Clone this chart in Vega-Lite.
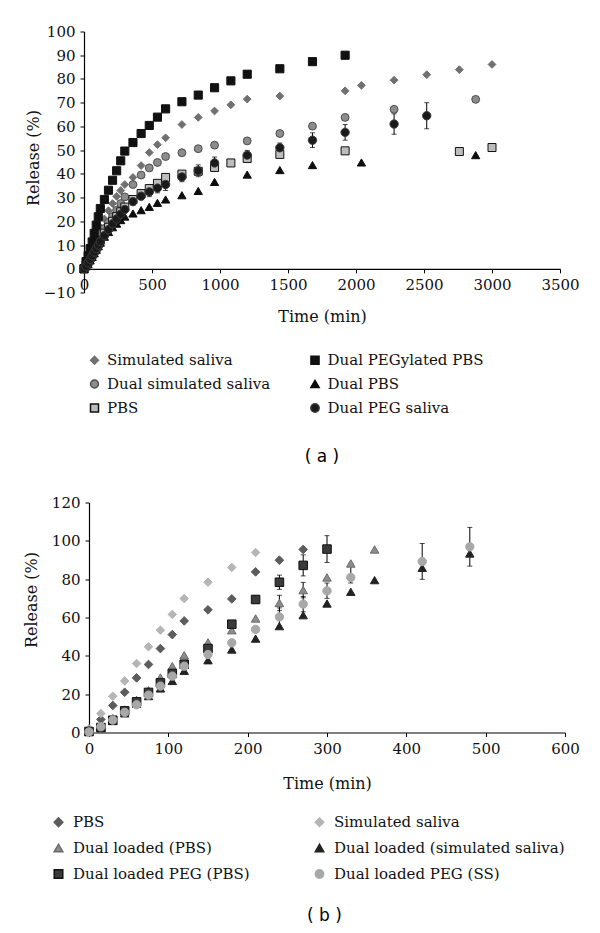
{
  "$schema": "https://vega.github.io/schema/vega-lite/v6.json",
  "background": "white",
  "padding": {"left": 23, "top": 24.5, "right": 5, "bottom": 5},
  "config": {
    "view": {"stroke": null},
    "font": "DejaVu Serif",
    "axis": {"grid": false, "domainColor": "#000", "tickColor": "#000", "labelColor": "#111", "titleColor": "#111", "labelFont": "DejaVu Serif", "titleFont": "DejaVu Serif", "labelFontSize": 15, "titleFontSize": 16, "titleFontWeight": "normal", "tickSize": 4, "labelPadding": 5, "domainWidth": 1.2, "tickWidth": 1, "labelOverlap": false, "labelFlush": false},
    "legend": {"labelFont": "DejaVu Serif", "labelFontSize": 15, "labelColor": "#111", "labelLimit": 400},
    "title": {"font": "DejaVu Sans", "fontSize": 17, "fontWeight": "normal", "color": "#000"}
  },
  "datasets": {
    "a": [
      {"s":"Simulated saliva","t":0,"r":0},{"s":"Simulated saliva","t":15,"r":2},{"s":"Simulated saliva","t":30,"r":4},{"s":"Simulated saliva","t":45,"r":6.5},{"s":"Simulated saliva","t":60,"r":9},{"s":"Simulated saliva","t":75,"r":11.5},{"s":"Simulated saliva","t":90,"r":13.5},{"s":"Simulated saliva","t":105,"r":15.5},{"s":"Simulated saliva","t":120,"r":17.5},{"s":"Simulated saliva","t":150,"r":21},{"s":"Simulated saliva","t":180,"r":24.5},{"s":"Simulated saliva","t":210,"r":27.5},{"s":"Simulated saliva","t":240,"r":30.5},{"s":"Simulated saliva","t":270,"r":33},{"s":"Simulated saliva","t":300,"r":35.5},{"s":"Simulated saliva","t":360,"r":38.5},{"s":"Simulated saliva","t":420,"r":43.5},{"s":"Simulated saliva","t":480,"r":49},{"s":"Simulated saliva","t":540,"r":52.3},{"s":"Simulated saliva","t":600,"r":55.2},{"s":"Simulated saliva","t":720,"r":60.8},{"s":"Simulated saliva","t":840,"r":63.8},{"s":"Simulated saliva","t":960,"r":66.5},{"s":"Simulated saliva","t":1080,"r":69.1},{"s":"Simulated saliva","t":1200,"r":71.5},{"s":"Simulated saliva","t":1440,"r":72.8},{"s":"Simulated saliva","t":1920,"r":75},{"s":"Simulated saliva","t":2040,"r":77.3},{"s":"Simulated saliva","t":2280,"r":79.5},{"s":"Simulated saliva","t":2520,"r":81.8},{"s":"Simulated saliva","t":2760,"r":83.9},{"s":"Simulated saliva","t":3000,"r":86.1},
      {"s":"Dual simulated saliva","t":0,"r":0},{"s":"Dual simulated saliva","t":15,"r":1.5},{"s":"Dual simulated saliva","t":30,"r":3.5},{"s":"Dual simulated saliva","t":45,"r":5.5},{"s":"Dual simulated saliva","t":60,"r":7.5},{"s":"Dual simulated saliva","t":75,"r":9.5},{"s":"Dual simulated saliva","t":90,"r":11.5},{"s":"Dual simulated saliva","t":105,"r":13},{"s":"Dual simulated saliva","t":120,"r":14.5},{"s":"Dual simulated saliva","t":150,"r":17},{"s":"Dual simulated saliva","t":180,"r":19.5},{"s":"Dual simulated saliva","t":210,"r":22},{"s":"Dual simulated saliva","t":240,"r":24.7},{"s":"Dual simulated saliva","t":270,"r":27.5},{"s":"Dual simulated saliva","t":300,"r":30.3},{"s":"Dual simulated saliva","t":360,"r":35.5},{"s":"Dual simulated saliva","t":420,"r":39.5},{"s":"Dual simulated saliva","t":480,"r":42.5},{"s":"Dual simulated saliva","t":540,"r":44.8},{"s":"Dual simulated saliva","t":600,"r":47.3},{"s":"Dual simulated saliva","t":720,"r":48.9},{"s":"Dual simulated saliva","t":840,"r":50.6},{"s":"Dual simulated saliva","t":960,"r":52.1},{"s":"Dual simulated saliva","t":1200,"r":53.9},{"s":"Dual simulated saliva","t":1440,"r":57},{"s":"Dual simulated saliva","t":1680,"r":60.1},{"s":"Dual simulated saliva","t":1920,"r":63.8},{"s":"Dual simulated saliva","t":2280,"r":67.2},{"s":"Dual simulated saliva","t":2880,"r":71.4},
      {"s":"PBS","t":0,"r":0},{"s":"PBS","t":15,"r":1.5},{"s":"PBS","t":30,"r":3},{"s":"PBS","t":45,"r":4.5},{"s":"PBS","t":60,"r":6},{"s":"PBS","t":75,"r":7.5},{"s":"PBS","t":90,"r":9},{"s":"PBS","t":105,"r":10.5},{"s":"PBS","t":120,"r":12},{"s":"PBS","t":150,"r":15},{"s":"PBS","t":180,"r":17.5},{"s":"PBS","t":210,"r":20},{"s":"PBS","t":240,"r":22},{"s":"PBS","t":270,"r":24},{"s":"PBS","t":300,"r":26},{"s":"PBS","t":360,"r":29.2},{"s":"PBS","t":420,"r":31.7},{"s":"PBS","t":480,"r":33.8},{"s":"PBS","t":540,"r":36},{"s":"PBS","t":600,"r":38.5},{"s":"PBS","t":720,"r":39.9},{"s":"PBS","t":840,"r":41.1},{"s":"PBS","t":960,"r":42.7},{"s":"PBS","t":1080,"r":44.6},{"s":"PBS","t":1200,"r":46.5},{"s":"PBS","t":1440,"r":48.2},{"s":"PBS","t":1920,"r":49.7},{"s":"PBS","t":2760,"r":49.4},{"s":"PBS","t":3000,"r":51.1},
      {"s":"Dual PEGylated PBS","t":0,"r":0},{"s":"Dual PEGylated PBS","t":15,"r":3},{"s":"Dual PEGylated PBS","t":30,"r":5.5},{"s":"Dual PEGylated PBS","t":45,"r":8.5},{"s":"Dual PEGylated PBS","t":60,"r":11.3},{"s":"Dual PEGylated PBS","t":75,"r":14.9},{"s":"Dual PEGylated PBS","t":90,"r":18.4},{"s":"Dual PEGylated PBS","t":105,"r":21.9},{"s":"Dual PEGylated PBS","t":120,"r":25.4},{"s":"Dual PEGylated PBS","t":150,"r":29.2},{"s":"Dual PEGylated PBS","t":180,"r":33.1},{"s":"Dual PEGylated PBS","t":210,"r":37.3},{"s":"Dual PEGylated PBS","t":240,"r":41.3},{"s":"Dual PEGylated PBS","t":270,"r":45.5},{"s":"Dual PEGylated PBS","t":300,"r":49.6},{"s":"Dual PEGylated PBS","t":360,"r":53.2},{"s":"Dual PEGylated PBS","t":420,"r":57},{"s":"Dual PEGylated PBS","t":480,"r":60.4},{"s":"Dual PEGylated PBS","t":540,"r":63.9},{"s":"Dual PEGylated PBS","t":600,"r":67.4},{"s":"Dual PEGylated PBS","t":720,"r":70.4},{"s":"Dual PEGylated PBS","t":840,"r":73.2},{"s":"Dual PEGylated PBS","t":960,"r":76.3},{"s":"Dual PEGylated PBS","t":1080,"r":79.2},{"s":"Dual PEGylated PBS","t":1200,"r":82},{"s":"Dual PEGylated PBS","t":1440,"r":84.3},{"s":"Dual PEGylated PBS","t":1680,"r":87.3},{"s":"Dual PEGylated PBS","t":1920,"r":90},
      {"s":"Dual PBS","t":0,"r":0},{"s":"Dual PBS","t":15,"r":1},{"s":"Dual PBS","t":30,"r":2},{"s":"Dual PBS","t":45,"r":3.5},{"s":"Dual PBS","t":60,"r":5},{"s":"Dual PBS","t":75,"r":6.5},{"s":"Dual PBS","t":90,"r":8},{"s":"Dual PBS","t":105,"r":9.5},{"s":"Dual PBS","t":120,"r":11},{"s":"Dual PBS","t":150,"r":13.5},{"s":"Dual PBS","t":180,"r":15.5},{"s":"Dual PBS","t":210,"r":17.5},{"s":"Dual PBS","t":240,"r":19},{"s":"Dual PBS","t":270,"r":20.5},{"s":"Dual PBS","t":300,"r":22},{"s":"Dual PBS","t":360,"r":23.3},{"s":"Dual PBS","t":420,"r":24.7},{"s":"Dual PBS","t":480,"r":26.1},{"s":"Dual PBS","t":540,"r":27.8},{"s":"Dual PBS","t":600,"r":29.2},{"s":"Dual PBS","t":720,"r":31},{"s":"Dual PBS","t":840,"r":32.8},{"s":"Dual PBS","t":960,"r":36.6},{"s":"Dual PBS","t":1200,"r":39.7},{"s":"Dual PBS","t":1440,"r":41.6},{"s":"Dual PBS","t":1680,"r":43.7},{"s":"Dual PBS","t":2040,"r":44.8},{"s":"Dual PBS","t":2880,"r":47.9},
      {"s":"Dual PEG saliva","t":0,"r":0},{"s":"Dual PEG saliva","t":15,"r":1},{"s":"Dual PEG saliva","t":30,"r":2.5},{"s":"Dual PEG saliva","t":45,"r":4},{"s":"Dual PEG saliva","t":60,"r":5.5},{"s":"Dual PEG saliva","t":75,"r":7},{"s":"Dual PEG saliva","t":90,"r":8.5},{"s":"Dual PEG saliva","t":105,"r":10},{"s":"Dual PEG saliva","t":120,"r":11.5},{"s":"Dual PEG saliva","t":150,"r":14},{"s":"Dual PEG saliva","t":180,"r":16.5},{"s":"Dual PEG saliva","t":210,"r":19},{"s":"Dual PEG saliva","t":240,"r":21},{"s":"Dual PEG saliva","t":270,"r":23},{"s":"Dual PEG saliva","t":300,"r":25},{"s":"Dual PEG saliva","t":360,"r":28.3},{"s":"Dual PEG saliva","t":420,"r":30.6},{"s":"Dual PEG saliva","t":480,"r":32.4},{"s":"Dual PEG saliva","t":540,"r":34},{"s":"Dual PEG saliva","t":600,"r":35.5},{"s":"Dual PEG saliva","t":720,"r":38.7},{"s":"Dual PEG saliva","t":840,"r":41.3},{"s":"Dual PEG saliva","t":960,"r":44.6},{"s":"Dual PEG saliva","t":1200,"r":47.9},{"s":"Dual PEG saliva","t":1440,"r":51},{"s":"Dual PEG saliva","t":1680,"r":54.2},{"s":"Dual PEG saliva","t":1920,"r":57.5},{"s":"Dual PEG saliva","t":2280,"r":61},{"s":"Dual PEG saliva","t":2520,"r":64.5}
    ],
    "a_err": [
      {"t":360,"lo":26.8,"hi":29.8},{"t":420,"lo":29.1,"hi":32.1},{"t":480,"lo":30.4,"hi":34.4},{"t":540,"lo":32,"hi":36},{"t":600,"lo":33,"hi":38},{"t":720,"lo":36.7,"hi":40.7},{"t":840,"lo":38.8,"hi":43.8},{"t":960,"lo":42.1,"hi":47.1},{"t":1200,"lo":45.9,"hi":49.9},{"t":1440,"lo":49,"hi":53},{"t":1680,"lo":51.1,"hi":57.3},{"t":1920,"lo":54.2,"hi":60.8},{"t":2280,"lo":56.7,"hi":65.3},{"t":2520,"lo":59,"hi":70}
    ],
    "b": [
      {"s":"PBS","t":0,"r":1},{"s":"PBS","t":15,"r":6.8},{"s":"PBS","t":30,"r":14.1},{"s":"PBS","t":45,"r":21},{"s":"PBS","t":60,"r":28.5},{"s":"PBS","t":75,"r":35.5},{"s":"PBS","t":90,"r":43.8},{"s":"PBS","t":105,"r":51.1},{"s":"PBS","t":120,"r":58.2},{"s":"PBS","t":150,"r":64},{"s":"PBS","t":180,"r":69.7},{"s":"PBS","t":210,"r":83.8},{"s":"PBS","t":240,"r":89.9},{"s":"PBS","t":270,"r":95.5},
      {"s":"Simulated saliva","t":0,"r":2},{"s":"Simulated saliva","t":15,"r":9.9},{"s":"Simulated saliva","t":30,"r":18.9},{"s":"Simulated saliva","t":45,"r":26.9},{"s":"Simulated saliva","t":60,"r":36},{"s":"Simulated saliva","t":75,"r":44.7},{"s":"Simulated saliva","t":90,"r":53.4},{"s":"Simulated saliva","t":105,"r":61.6},{"s":"Simulated saliva","t":120,"r":69.9},{"s":"Simulated saliva","t":150,"r":78.4},{"s":"Simulated saliva","t":180,"r":86.1},{"s":"Simulated saliva","t":210,"r":93.9},
      {"s":"Dual loaded (PBS)","t":0,"r":1.5},{"s":"Dual loaded (PBS)","t":15,"r":3.5},{"s":"Dual loaded (PBS)","t":30,"r":7.5},{"s":"Dual loaded (PBS)","t":45,"r":12},{"s":"Dual loaded (PBS)","t":60,"r":17},{"s":"Dual loaded (PBS)","t":75,"r":22},{"s":"Dual loaded (PBS)","t":90,"r":28.7},{"s":"Dual loaded (PBS)","t":105,"r":34.6},{"s":"Dual loaded (PBS)","t":120,"r":40.3},{"s":"Dual loaded (PBS)","t":150,"r":47},{"s":"Dual loaded (PBS)","t":180,"r":53.4},{"s":"Dual loaded (PBS)","t":210,"r":59.5},{"s":"Dual loaded (PBS)","t":240,"r":67.6},{"s":"Dual loaded (PBS)","t":270,"r":74.3},{"s":"Dual loaded (PBS)","t":300,"r":80.9},{"s":"Dual loaded (PBS)","t":330,"r":88.2},{"s":"Dual loaded (PBS)","t":360,"r":95.5},
      {"s":"Dual loaded (simulated saliva)","t":0,"r":0.5},{"s":"Dual loaded (simulated saliva)","t":15,"r":2.5},{"s":"Dual loaded (simulated saliva)","t":30,"r":6},{"s":"Dual loaded (simulated saliva)","t":45,"r":10},{"s":"Dual loaded (simulated saliva)","t":60,"r":15},{"s":"Dual loaded (simulated saliva)","t":75,"r":19},{"s":"Dual loaded (simulated saliva)","t":90,"r":23},{"s":"Dual loaded (simulated saliva)","t":105,"r":26.9},{"s":"Dual loaded (simulated saliva)","t":120,"r":32.2},{"s":"Dual loaded (simulated saliva)","t":150,"r":37.7},{"s":"Dual loaded (simulated saliva)","t":180,"r":43.3},{"s":"Dual loaded (simulated saliva)","t":210,"r":49},{"s":"Dual loaded (simulated saliva)","t":240,"r":55.5},{"s":"Dual loaded (simulated saliva)","t":270,"r":61.2},{"s":"Dual loaded (simulated saliva)","t":300,"r":67.3},{"s":"Dual loaded (simulated saliva)","t":330,"r":73.4},{"s":"Dual loaded (simulated saliva)","t":360,"r":79.5},{"s":"Dual loaded (simulated saliva)","t":420,"r":85.9},{"s":"Dual loaded (simulated saliva)","t":480,"r":93.4},
      {"s":"Dual loaded PEG (PBS)","t":0,"r":0.5},{"s":"Dual loaded PEG (PBS)","t":15,"r":2.6},{"s":"Dual loaded PEG (PBS)","t":30,"r":6.4},{"s":"Dual loaded PEG (PBS)","t":45,"r":11.3},{"s":"Dual loaded PEG (PBS)","t":60,"r":16},{"s":"Dual loaded PEG (PBS)","t":75,"r":20.9},{"s":"Dual loaded PEG (PBS)","t":90,"r":25.9},{"s":"Dual loaded PEG (PBS)","t":105,"r":30.8},{"s":"Dual loaded PEG (PBS)","t":120,"r":35.6},{"s":"Dual loaded PEG (PBS)","t":150,"r":43.8},{"s":"Dual loaded PEG (PBS)","t":180,"r":56.5},{"s":"Dual loaded PEG (PBS)","t":210,"r":69.4},{"s":"Dual loaded PEG (PBS)","t":240,"r":78.4},{"s":"Dual loaded PEG (PBS)","t":270,"r":87.2},{"s":"Dual loaded PEG (PBS)","t":300,"r":95.7},
      {"s":"Dual loaded PEG (SS)","t":0,"r":0.3},{"s":"Dual loaded PEG (SS)","t":15,"r":3},{"s":"Dual loaded PEG (SS)","t":30,"r":6.5},{"s":"Dual loaded PEG (SS)","t":45,"r":10.5},{"s":"Dual loaded PEG (SS)","t":60,"r":14.5},{"s":"Dual loaded PEG (SS)","t":75,"r":19.5},{"s":"Dual loaded PEG (SS)","t":90,"r":24.2},{"s":"Dual loaded PEG (SS)","t":105,"r":29.4},{"s":"Dual loaded PEG (SS)","t":120,"r":34.6},{"s":"Dual loaded PEG (SS)","t":150,"r":40.7},{"s":"Dual loaded PEG (SS)","t":180,"r":46.8},{"s":"Dual loaded PEG (SS)","t":210,"r":53.8},{"s":"Dual loaded PEG (SS)","t":240,"r":60.3},{"s":"Dual loaded PEG (SS)","t":270,"r":67},{"s":"Dual loaded PEG (SS)","t":300,"r":73.9},{"s":"Dual loaded PEG (SS)","t":330,"r":80.9},{"s":"Dual loaded PEG (SS)","t":420,"r":89.2},{"s":"Dual loaded PEG (SS)","t":480,"r":96.9}
    ],
    "b_err": [
      {"t":210,"lo":67.4,"hi":71.4},{"t":240,"lo":74.7,"hi":82.1},{"t":270,"lo":81.7,"hi":92.7},{"t":300,"lo":88.7,"hi":102.7},
      {"t":420,"lo":79.9,"hi":98.6},{"t":480,"lo":86.8,"hi":107},
      {"t":240,"lo":55.5,"hi":65},{"t":270,"lo":63,"hi":71},{"t":300,"lo":70,"hi":78},{"t":330,"lo":78,"hi":88.2},
      {"t":240,"lo":63.6,"hi":71.6},{"t":270,"lo":70.3,"hi":78.3}
    ]
  },
  "columns": 1,
  "align": "none",
  "spacing": 30,
  "resolve": {"scale": {"shape": "independent", "fill": "independent", "stroke": "independent", "size": "independent"}},
  "concat": [
    {
      "width": 476,
      "height": 261,
      "title": {"text": "( a )", "orient": "bottom", "anchor": "middle", "offset": 32.5},
      "layer": [
        {
          "data": {"name": "a_err"},
          "mark": {"type": "errorbar", "ticks": {"size": 5, "color": "#000"}, "color": "#000", "thickness": 1},
          "encoding": {
            "x": {"field": "t", "type": "quantitative", "axis": {"values": [0, 500, 1000, 1500, 2000, 2500, 3000, 3500], "labelOverlap": false}},
            "y": {"field": "lo", "type": "quantitative", "title": "Release (%)", "axis": {"values": [-10, 0, 10, 20, 30, 40, 50, 60, 70, 80, 90, 100], "labelOverlap": false}},
            "y2": {"field": "hi"}
          }
        },
        {
          "data": {"name": "a"},
          "mark": {"type": "point", "filled": true, "strokeWidth": 1, "opacity": 1},
          "encoding": {
            "x": {"field": "t", "type": "quantitative", "scale": {"domain": [0, 3500], "nice": false},
                  "axis": {"values": [0, 500, 1000, 1500, 2000, 2500, 3000, 3500], "labelOverlap": false, "format": "d", "title": "Time (min)", "offset": -23.7, "titlePadding": 16}},
            "y": {"field": "r", "type": "quantitative", "scale": {"domain": [-10, 100], "nice": false},
                  "axis": {"values": [-10, 0, 10, 20, 30, 40, 50, 60, 70, 80, 90, 100], "labelOverlap": false, "title": "Release (%)", "titlePadding": 2, "titleY": 126}},
            "shape": {"field": "s", "type": "nominal",
                      "scale": {"domain": ["Simulated saliva", "Dual simulated saliva", "PBS", "Dual PEGylated PBS", "Dual PBS", "Dual PEG saliva"],
                                "range": ["diamond", "circle", "square", "square", "triangle-up", "circle"]},
                      "legend": {"orient": "none", "legendX": 3, "legendY": 321, "columns": 2, "columnPadding": 36.5, "rowPadding": 8, "title": null, "labelOffset": 5}},
            "fill": {"field": "s", "type": "nominal",
                     "scale": {"domain": ["Simulated saliva", "Dual simulated saliva", "PBS", "Dual PEGylated PBS", "Dual PBS", "Dual PEG saliva"],
                               "range": ["#707070", "#8c8c8c", "#bdbdbd", "#111111", "#0d0d0d", "#1a1a1a"]}},
            "stroke": {"field": "s", "type": "nominal",
                       "scale": {"domain": ["Simulated saliva", "Dual simulated saliva", "PBS", "Dual PEGylated PBS", "Dual PBS", "Dual PEG saliva"],
                                 "range": ["#707070", "#4d4d4d", "#111111", "#111111", "#0d0d0d", "#3a3a3a"]}},
            "size": {"field": "s", "type": "nominal",
                     "scale": {"domain": ["Simulated saliva", "Dual simulated saliva", "PBS", "Dual PEGylated PBS", "Dual PBS", "Dual PEG saliva"],
                               "range": [60, 70, 55, 60, 60, 60]}}
          }
        }
      ]
    },
    {
      "width": 481,
      "height": 230,
      "title": {"text": "( b )", "orient": "bottom", "anchor": "middle", "offset": 25},
      "layer": [
        {
          "data": {"name": "b_err"},
          "mark": {"type": "errorbar", "ticks": {"size": 5, "color": "#000"}, "color": "#000", "thickness": 1},
          "encoding": {
            "x": {"field": "t", "type": "quantitative", "axis": {"values": [0, 100, 200, 300, 400, 500, 600], "labelOverlap": false}},
            "y": {"field": "lo", "type": "quantitative", "title": "Release (%)", "axis": {"values": [0, 20, 40, 60, 80, 100, 120], "labelOverlap": false}},
            "y2": {"field": "hi"}
          }
        },
        {
          "data": {"name": "b"},
          "mark": {"type": "point", "filled": true, "strokeWidth": 1, "opacity": 1},
          "encoding": {
            "x": {"field": "t", "type": "quantitative", "scale": {"domain": [0, 600], "nice": false, "range": [5, 481]},
                  "axis": {"values": [0, 100, 200, 300, 400, 500, 600], "labelOverlap": false, "format": "d", "title": "Time (min)", "titlePadding": 19}},
            "y": {"field": "r", "type": "quantitative", "scale": {"domain": [0, 120], "nice": false},
                  "axis": {"values": [0, 20, 40, 60, 80, 100, 120], "labelOverlap": false, "title": "Release (%)", "titlePadding": 12, "titleY": 97, "offset": -5}},
            "shape": {"field": "s", "type": "nominal",
                      "scale": {"domain": ["PBS", "Dual loaded (PBS)", "Dual loaded PEG (PBS)", "Simulated saliva", "Dual loaded (simulated saliva)", "Dual loaded PEG (SS)"],
                                "range": ["diamond", "triangle-up", "square", "diamond", "triangle-up", "circle"]},
                      "legend": {"orient": "none", "legendX": -33, "legendY": 312, "columns": 2, "columnPadding": 62, "rowPadding": 10, "title": null, "labelOffset": 7}},
            "fill": {"field": "s", "type": "nominal",
                     "scale": {"domain": ["PBS", "Dual loaded (PBS)", "Dual loaded PEG (PBS)", "Simulated saliva", "Dual loaded (simulated saliva)", "Dual loaded PEG (SS)"],
                               "range": ["#5c5c5c", "#8c8c8c", "#3a3a3a", "#b5b5b5", "#222222", "#a8a8a8"]}},
            "stroke": {"field": "s", "type": "nominal",
                       "scale": {"domain": ["PBS", "Dual loaded (PBS)", "Dual loaded PEG (PBS)", "Simulated saliva", "Dual loaded (simulated saliva)", "Dual loaded PEG (SS)"],
                                 "range": ["#5c5c5c", "#6b6b6b", "#111111", "#b5b5b5", "#222222", "#a8a8a8"]}},
            "size": {"field": "s", "type": "nominal",
                     "scale": {"domain": ["PBS", "Dual loaded (PBS)", "Dual loaded PEG (PBS)", "Simulated saliva", "Dual loaded (simulated saliva)", "Dual loaded PEG (SS)"],
                               "range": [75, 70, 60, 75, 70, 65]}}
          }
        }
      ]
    }
  ]
}
